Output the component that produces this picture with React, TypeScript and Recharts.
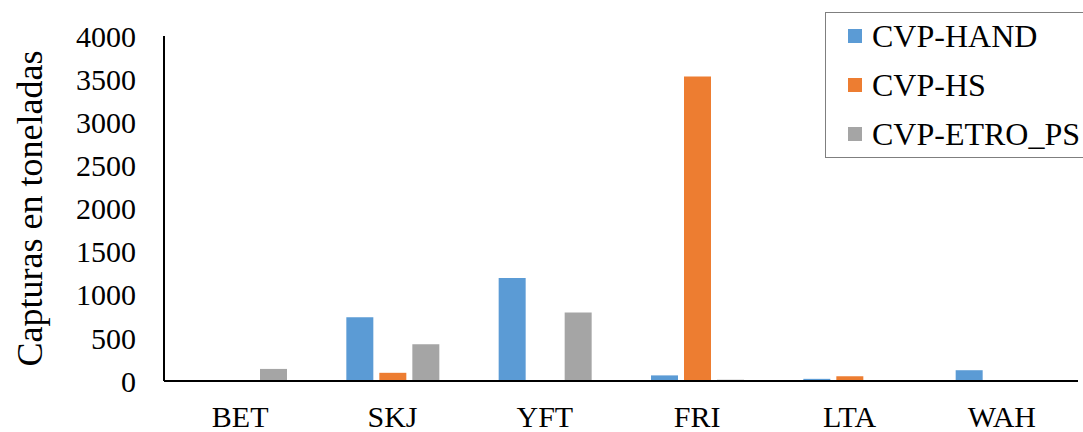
import React from 'react';
import { BarChart, Bar, XAxis, YAxis } from 'recharts';

const categories = ['BET', 'SKJ', 'YFT', 'FRI', 'LTA', 'WAH'];
const cvpHand = [0, 740, 1195, 65, 25, 125];
const cvpHs = [0, 95, 0, 3530, 55, 0];
const cvpEtroPs = [140, 425, 795, 15, 0, 0];
const yTicks = [0, 500, 1000, 1500, 2000, 2500, 3000, 3500, 4000];

const seriesKeys = ['hand', 'hs', 'etro'];
const seriesNames = ['CVP-HAND', 'CVP-HS', 'CVP-ETRO_PS'];
const seriesColors = ['#5B9BD5', '#ED7D31', '#A5A5A5'];

const data = categories.map((c, i) => ({
  cat: c,
  hand: cvpHand[i],
  hs: cvpHs[i],
  etro: cvpEtroPs[i],
}));

const FONT = '"Liberation Serif", "Times New Roman", serif';

function LegendBox() {
  return (
    <div
      style={{
        position: 'absolute',
        left: 825,
        top: 12,
        width: 300,
        height: 146,
        border: '1.5px solid #7f7f7f',
        boxSizing: 'border-box',
        fontFamily: FONT,
        fontSize: 32,
        color: '#000',
        background: '#fff',
      }}
    >
      {seriesNames.map((name, i) => (
        <div
          key={name}
          style={{
            position: 'absolute',
            left: 22,
            top: 1 + i * 49,
            height: 44,
            display: 'flex',
            alignItems: 'center',
            whiteSpace: 'nowrap',
          }}
        >
          <span
            style={{
              display: 'inline-block',
              width: 14,
              height: 14,
              background: seriesColors[i],
              marginRight: 10,
            }}
          />
          <span>{name}</span>
        </div>
      ))}
    </div>
  );
}

export default function App() {
  return (
    <div style={{ width: 1083, height: 432, position: 'relative', background: '#fff', overflow: 'hidden' }}>
      <style>{'body{margin:0;overflow:hidden;}'}</style>
      <BarChart
        width={1083}
        height={432}
        data={data}
        margin={{ top: 36, right: 5, left: 0, bottom: 0 }}
        barSize={27}
        barGap={6}
      >
        <XAxis
          dataKey="cat"
          height={51}
          tickLine={false}
          tickSize={0}
          tickMargin={25}
          axisLine={{ stroke: '#000', strokeWidth: 2 }}
          tick={{ fill: '#000', fontSize: 30, fontFamily: FONT }}
          interval={0}
        />
        <YAxis
          width={164}
          domain={[0, 4000]}
          ticks={yTicks}
          interval={0}
          tickLine={false}
          tickSize={0}
          tickMargin={28}
          axisLine={{ stroke: '#000', strokeWidth: 2 }}
          tick={{ fill: '#000', fontSize: 30, fontFamily: FONT }}
          label={{
            value: 'Capturas en toneladas',
            angle: -90,
            position: 'insideLeft',
            offset: 0,
            dx: 29,
            style: { fill: '#000', fontSize: 36, fontFamily: FONT, textAnchor: 'middle' },
          }}
        />
        {seriesKeys.map((k, i) => (
          <Bar key={k} dataKey={k} name={seriesNames[i]} fill={seriesColors[i]} isAnimationActive={false} />
        ))}
      </BarChart>
      <LegendBox />
    </div>
  );
}
